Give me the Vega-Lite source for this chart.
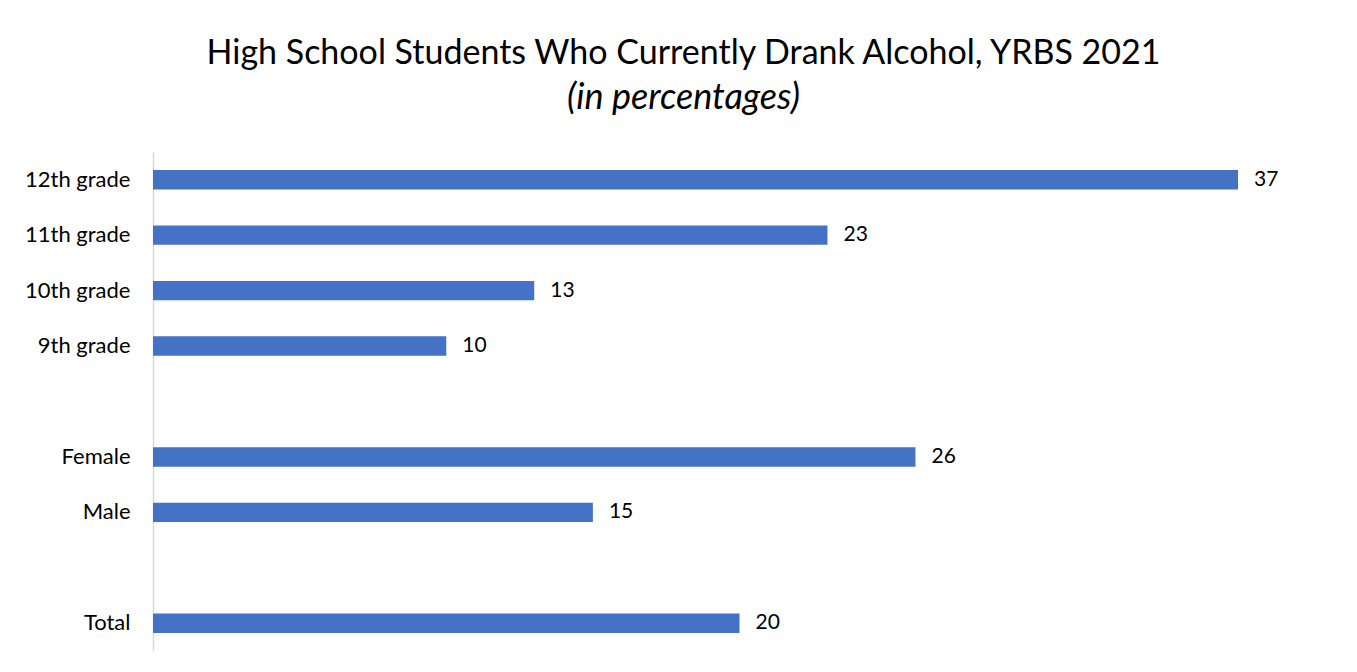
{
  "$schema": "https://vega.github.io/schema/vega-lite/v6.json",
  "autosize": "none",
  "width": 1173,
  "height": 499,
  "padding": {"left": 153, "top": 152, "right": 31, "bottom": 21},
  "background": "white",
  "title": {
    "text": "High School Students Who Currently Drank Alcohol, YRBS 2021",
    "subtitle": "(in percentages)",
    "anchor": "middle",
    "frame": "group",
    "dx": -56,
    "offset": 36,
    "font": "Lato",
    "fontSize": 34,
    "fontWeight": "normal",
    "color": "#000000",
    "subtitleFont": "Lato",
    "subtitleFontSize": 36,
    "subtitleFontStyle": "italic",
    "subtitleColor": "#000000",
    "subtitlePadding": 10
  },
  "data": {
    "values": [
      {"group": "12th grade", "pct": 37},
      {"group": "11th grade", "pct": 23},
      {"group": "10th grade", "pct": 13},
      {"group": "9th grade", "pct": 10},
      {"group": "Female", "pct": 26},
      {"group": "Male", "pct": 15},
      {"group": "Total", "pct": 20}
    ]
  },
  "encoding": {
    "y": {
      "field": "group",
      "type": "nominal",
      "scale": {
        "domain": ["12th grade", "11th grade", "10th grade", "9th grade", " ", "Female", "Male", "  ", "Total"],
        "paddingInner": 0.65,
        "paddingOuter": 0.325
      },
      "axis": {
        "title": null,
        "ticks": false,
        "tickSize": 0,
        "labelPadding": 23,
        "labelFont": "Lato",
        "labelFontSize": 22,
        "labelColor": "#000000",
        "domainColor": "#d9d9d9",
        "domainWidth": 1.5,
        "grid": false
      }
    },
    "x": {
      "field": "pct",
      "type": "quantitative",
      "scale": {"domain": [0, 40], "nice": false},
      "axis": null
    }
  },
  "layer": [
    {"mark": {"type": "bar", "color": "#4472C4"}},
    {
      "mark": {"type": "text", "align": "left", "baseline": "middle", "dx": 16, "font": "Lato", "fontSize": 21, "color": "#000000"},
      "encoding": {"text": {"field": "pct", "type": "quantitative"}}
    }
  ],
  "config": {"view": {"stroke": null}}
}
